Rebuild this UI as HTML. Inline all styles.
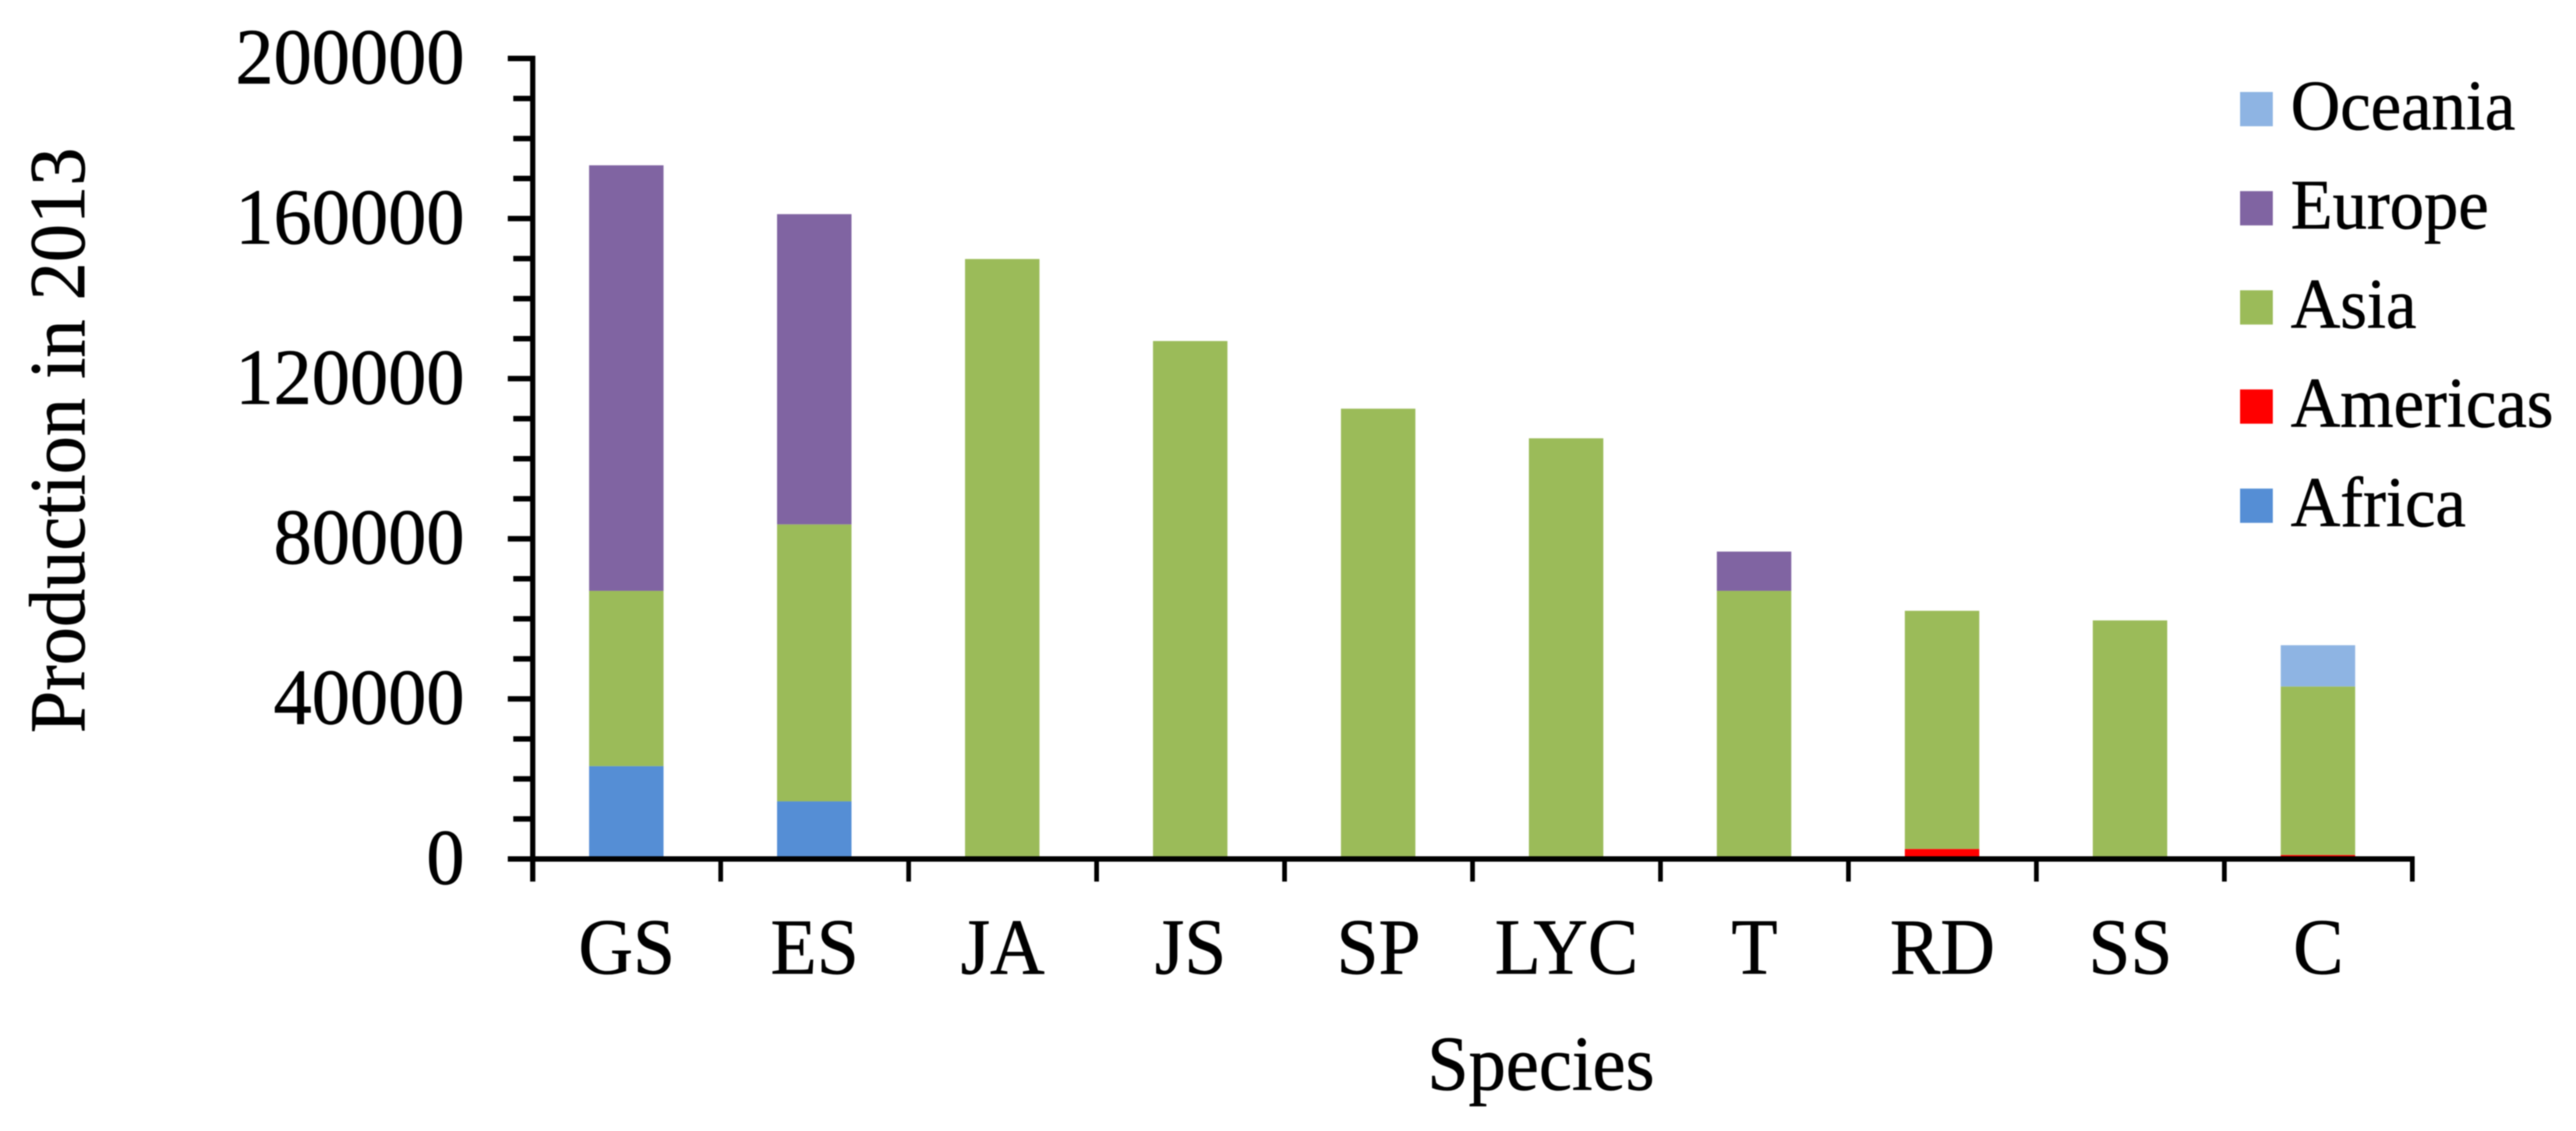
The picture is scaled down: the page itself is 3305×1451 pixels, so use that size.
<!DOCTYPE html>
<html lang="en">
<head>
<meta charset="utf-8">
<title>Production in 2013 by species</title>
<style>
html,body{margin:0;padding:0;background:#fff;}
svg{display:block;filter:blur(0.7px);}
text{font-family:"Liberation Serif",serif;fill:#000;stroke:#000;stroke-width:0.7px;}
</style>
</head>
<body>
<svg id="chart" xmlns="http://www.w3.org/2000/svg" width="3305" height="1451" viewBox="0 0 3305 1451">
<rect x="0" y="0" width="3305" height="1451" fill="#ffffff"/>
<g id="bars"></g>
<g id="axes"></g>
<g id="legend"></g>
<text transform="translate(108 565) rotate(-90) scale(1 1.04)" text-anchor="middle" font-size="98">Production in 2013</text>
<text transform="translate(1977 1398) scale(1 1.04)" text-anchor="middle" font-size="95.5">Species</text>
</svg>
<script>
const categories = ["GS","ES","JA","JS","SP","LYC","T","RD","SS","C"];
const africa   = [23200,14400,0,0,0,0,0,0,0,0];
const americas = [0,0,0,0,0,0,0,2500,0,1000];
const asia     = [43800,69200,149900,129400,112500,105100,67000,59500,59600,42100];
const europe   = [106300,77500,0,0,0,0,9800,0,0,0];
const oceania  = [0,0,0,0,0,0,0,0,0,10300];
const yTickLabels = ["0","40000","80000","120000","160000","200000"];
const yMax = 200000;
const yMinorStep = 10000;

const seriesNames = ["Africa","Americas","Asia","Europe","Oceania"];
const seriesValues = [africa,americas,asia,europe,oceania];
const seriesColors = ["#558ed5","#ff0000","#9bbb59","#8064a2","#8eb4e3"];

const NS = "http://www.w3.org/2000/svg";
const plot = {left:683.5, right:3095, top:75, bottom:1102};
const bandWidth = (plot.right - plot.left) / categories.length;
const barWidth = 95.5;
function yScale(v){ return plot.bottom - (v / yMax) * (plot.bottom - plot.top); }
function xBand(i){ return plot.left + bandWidth * i; }
function make(tag, attrs, parent){
  const el = document.createElementNS(NS, tag);
  for (const k in attrs) el.setAttribute(k, attrs[k]);
  parent.appendChild(el);
  return el;
}

const barsG = document.getElementById("bars");
categories.forEach(function(cat, i){
  let cum = 0;
  seriesValues.forEach(function(vals, s){
    const v = vals[i];
    if (v > 0) {
      const y0 = yScale(cum);
      const y1 = yScale(cum + v);
      const r = make("rect", {x: xBand(i) + bandWidth / 2 - barWidth / 2 - 0.5, y: y1, width: barWidth, height: y0 - y1, fill: seriesColors[s]}, barsG);
      
      
    }
    cum += v;
  });
});

const axesG = document.getElementById("axes");
const yAxisLine = make("line", {x1: plot.left, x2: plot.left, y1: plot.top - 3.5, y2: plot.bottom + 29, stroke: "#000", "stroke-width": 6.7}, axesG);


const xAxisLine = make("line", {x1: plot.left - 32, x2: plot.right + 3, y1: plot.bottom, y2: plot.bottom, stroke: "#000", "stroke-width": 7}, axesG);



for (let v = 0; v <= yMax; v += yMinorStep) {
  const isMajor = v % (yMax / (yTickLabels.length - 1)) === 0;
  const tick = make("line", {x1: plot.left - (isMajor ? 32 : 25), x2: plot.left, y1: yScale(v), y2: yScale(v), stroke: "#000", "stroke-width": 7}, axesG);
  
  
}
yTickLabels.forEach(function(label){
  const t = make("text", {transform: "translate(596 " + (yScale(Number(label)) + 32) + ") scale(1 1.04)", "text-anchor": "end", "font-size": 98}, axesG);
  t.textContent = label;
  
  
});
for (let i = 0; i <= categories.length; i++) {
  const x = xBand(i);
  const tick = make("line", {x1: x, x2: x, y1: plot.bottom, y2: plot.bottom + 29, stroke: "#000", "stroke-width": 6}, axesG);
  
  
}
categories.forEach(function(cat, i){
  const t = make("text", {transform: "translate(" + (xBand(i) + bandWidth / 2) + " 1249) scale(1 1.05)", "text-anchor": "middle", "font-size": 97}, axesG);
  t.textContent = cat;
  
  
});

const legendG = document.getElementById("legend");
for (let s = 0; s < seriesNames.length; s++) {
  const cy = 140 + (seriesNames.length - 1 - s) * 127.2;
  const swatch = make("rect", {x: 2874, y: cy - 22, width: 42, height: 44, fill: seriesColors[s]}, legendG);
  
  
  const label = make("text", {transform: "translate(2939 " + (cy + 26) + ") scale(1 1.04)", "font-size": 88}, legendG);
  label.textContent = seriesNames[s];
  
  
}
</script>
</body>
</html>
